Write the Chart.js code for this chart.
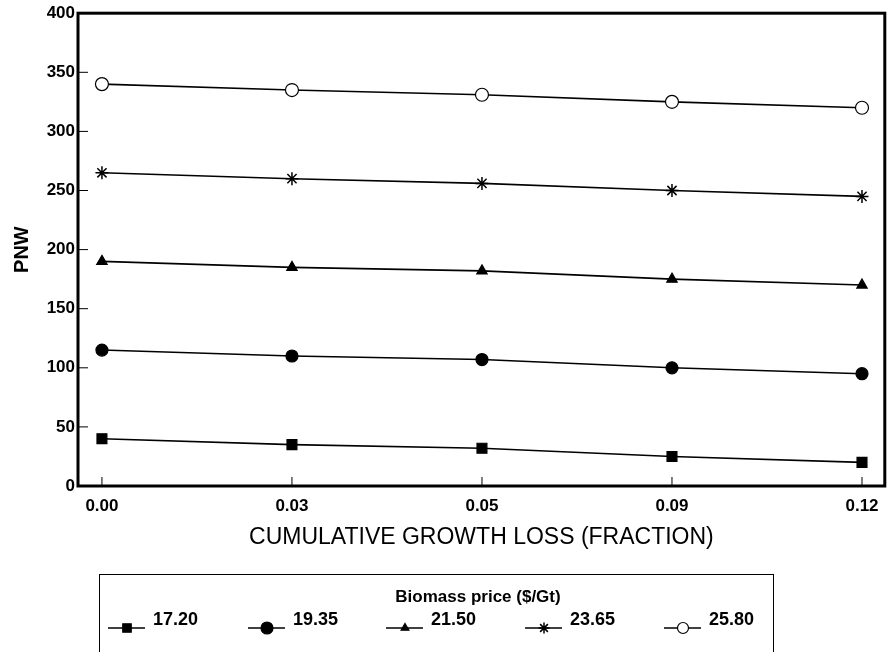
<!DOCTYPE html>
<html lang="en">
  <head>
    <meta charset="UTF-8" />
    <title>PNW vs cumulative growth loss</title>
    <script src="https://cdn.jsdelivr.net/npm/chart.js"></script>
    <style>
      html, body { margin: 0; padding: 0; background: #fff; }
      #wrap { width: 893px; height: 652px; position: relative; }
    </style>
  </head>
  <body>
    <div id="wrap"><canvas id="pnw-chart"></canvas></div>

    <script>
      // x categories (cumulative growth loss, fraction)
      const growthLoss = ["0.00", "0.03", "0.05", "0.09", "0.12"];
      // y axis ticks
      const yTicks = [0, 50, 100, 150, 200, 250, 300, 350, 400];
      // biomass prices ($/Gt), one series each
      const prices = ["17.20", "19.35", "21.50", "23.65", "25.80"];
      const pnw1720 = [40, 35, 32, 25, 20];
      const pnw1935 = [115, 110, 107, 100, 95];
      const pnw2150 = [190, 185, 182, 175, 170];
      const pnw2365 = [265, 260, 256, 250, 245];
      const pnw2580 = [340, 335, 331, 325, 320];

      const seriesValues = [pnw1720, pnw1935, pnw2150, pnw2365, pnw2580];
      const markers = [
        { style: "rect", radius: 7, legendRadius: 6, fill: "#000", bw: 1.2 },
        { style: "circle", radius: 6, legendRadius: 6, fill: "#000", bw: 1.2 },
        { style: "triangle", radius: 6, legendRadius: 4.5, fill: "#000", bw: 1.2 },
        { style: "star", radius: 6.5, legendRadius: 5.5, fill: "#000", bw: 1.5 },
        { style: "circle", radius: 6.5, legendRadius: 5.5, fill: "#fff", bw: 1.2 },
      ];

      const datasets = prices.map((p, i) => ({
        label: p,
        data: seriesValues[i].map((v, j) => ({ x: j, y: v })),
        borderColor: "#000",
        borderWidth: 1.6,
        backgroundColor: markers[i].fill,
        pointStyle: markers[i].style,
        pointRadius: markers[i].radius,
        pointBorderColor: "#000",
        pointBackgroundColor: markers[i].fill,
        pointBorderWidth: markers[i].bw,
        tension: 0,
      }));

      const FONT = "'Liberation Sans', Arial, sans-serif";

      // frame, inward ticks and the legend box
      const extras = {
        id: "extras",
        afterDraw(chart) {
          const ctx = chart.ctx;
          const a = chart.chartArea;
          const xs = chart.scales.x;
          const ys = chart.scales.y;
          ctx.save();
          ctx.strokeStyle = "#000";
          ctx.lineWidth = 1;
          xs.ticks.forEach((t) => {
            const px = xs.getPixelForValue(t.value);
            ctx.beginPath();
            ctx.moveTo(px, a.bottom);
            ctx.lineTo(px, a.bottom - 9);
            ctx.stroke();
          });
          ys.ticks.forEach((t) => {
            const py = ys.getPixelForValue(t.value);
            ctx.beginPath();
            ctx.moveTo(a.left, py);
            ctx.lineTo(a.left + 10, py);
            ctx.stroke();
          });
          ctx.lineWidth = 3;
          ctx.strokeRect(a.left, a.top, a.right - a.left, a.bottom - a.top);

          // legend
          ctx.lineWidth = 1;
          ctx.strokeRect(99.5, 574.5, 674, 90);
          ctx.fillStyle = "#000";
          ctx.font = "bold 17px " + FONT;
          ctx.textAlign = "center";
          ctx.textBaseline = "middle";
          ctx.fillText("Biomass price ($/Gt)", 478, 597);
          const itemX = [108, 248, 386, 525, 664];
          chart.data.datasets.forEach((ds, i) => {
            const x0 = itemX[i];
            const y = 628;
            ctx.strokeStyle = "#000";
            ctx.lineWidth = 1.5;
            ctx.beginPath();
            ctx.moveTo(x0, y);
            ctx.lineTo(x0 + 37, y);
            ctx.stroke();
            ctx.fillStyle = markers[i].fill;
            ctx.lineWidth = markers[i].bw;
            Chart.helpers.drawPoint(
              ctx,
              {
                pointStyle: ds.pointStyle,
                radius: markers[i].legendRadius,
                borderWidth: markers[i].bw,
              },
              x0 + 19,
              y
            );
            ctx.fillStyle = "#000";
            ctx.font = "bold 18px " + FONT;
            ctx.textAlign = "left";
            ctx.fillText(ds.label, x0 + 45, y - 8);
          });
          ctx.restore();
        },
      };

      Chart.defaults.font.family = FONT;
      Chart.defaults.color = "#000";

      new Chart(document.getElementById("pnw-chart"), {
        type: "line",
        data: { datasets },
        plugins: [extras],
        options: {
          responsive: true,
          maintainAspectRatio: false,
          animation: false,
          layout: { padding: { top: 13, right: 5, bottom: 101, left: 0 } },
          plugins: {
            legend: { display: false },
            tooltip: { enabled: false },
          },
          scales: {
            x: {
              type: "linear",
              min: -0.126,
              max: 4.12,
              afterBuildTicks: (s) => {
                s.ticks = growthLoss.map((_, i) => ({ value: i }));
              },
              afterFit: (s) => {
                s.height = 65;
              },
              grid: { display: false, drawTicks: false },
              border: { display: false },
              ticks: {
                padding: 10,
                font: { size: 17, weight: "bold" },
                callback: (v) => growthLoss[v],
              },
              title: {
                display: true,
                text: "CUMULATIVE GROWTH LOSS (FRACTION)",
                font: { size: 23 },
                padding: { top: 0, bottom: 0 },
              },
            },
            y: {
              min: 0,
              max: 400,
              afterBuildTicks: (s) => {
                s.ticks = yTicks.map((v) => ({ value: v }));
              },
              afterFit: (s) => {
                s.width = 78;
              },
              grid: { display: false, drawTicks: false },
              border: { display: false },
              ticks: {
                padding: 3,
                font: { size: 17, weight: "bold" },
              },
              title: {
                display: true,
                text: "PNW",
                font: { size: 20, weight: "bold" },
                padding: { top: 10, bottom: 0 },
              },
            },
          },
        },
      });
    </script>
  </body>
</html>
